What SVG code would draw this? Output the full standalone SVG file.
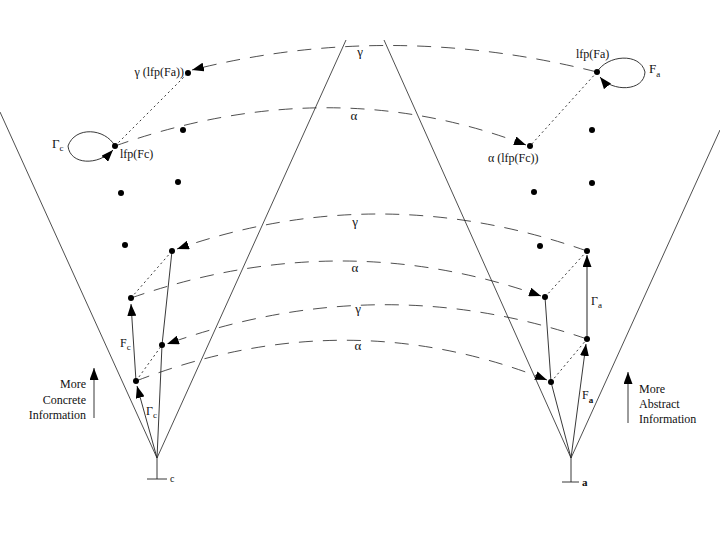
<svg xmlns="http://www.w3.org/2000/svg" width="720" height="540" viewBox="0 0 720 540" font-family="'Liberation Serif', 'Times New Roman', serif">
<style>
text{font-family:"Liberation Serif","Times New Roman",serif;fill:#111}
.t{font-size:12px}
.g{font-size:13px;text-anchor:middle}
.sub{font-size:9px}
.cone{stroke:#222;stroke-width:0.8;fill:none}
.sol{stroke:#222;stroke-width:0.9;fill:none}
.gray{stroke:#777;stroke-width:1.6;fill:none}
.dash{stroke:#222;stroke-width:0.8;fill:none;stroke-dasharray:14 10}
.dot{stroke:#222;stroke-width:0.9;fill:none;stroke-dasharray:2 3}
.n{fill:#000}
</style>
<defs>
<marker id="ah" markerUnits="userSpaceOnUse" markerWidth="12" markerHeight="9" refX="12" refY="4.5" orient="auto">
<path d="M0,0 L12,4.5 L0,9 z" fill="#000"/>
</marker>
</defs>
<g id="cones">
<line class="cone" x1="157" y1="458" x2="0" y2="112"/>
<line class="cone" x1="157" y1="458" x2="346" y2="40"/>
<line class="cone" x1="571" y1="458" x2="384" y2="40"/>
<line class="cone" x1="571" y1="458" x2="720" y2="130"/>
</g>
<g id="connectors">
<path class="dash" d="M597,72 Q390,20 192,70" marker-end="url(#ah)"/>
<path class="dash" d="M115,146 Q330,70 526,145" marker-end="url(#ah)"/>
<path class="dash" d="M587,251 Q380,178 177,249" marker-end="url(#ah)"/>
<path class="dash" d="M131,298 Q340,225 541,296" marker-end="url(#ah)"/>
<path class="dash" d="M587,339 Q380,268 167,344" marker-end="url(#ah)"/>
<path class="dash" d="M136,381 Q345,300 547,380" marker-end="url(#ah)"/>
<line class="dot" x1="115" y1="146" x2="188" y2="73"/>
<line class="dot" x1="597" y1="72" x2="530" y2="146"/>
<line class="dot" x1="131" y1="298" x2="172" y2="251"/>
<line class="dot" x1="136" y1="381" x2="162" y2="345"/>
<line class="dot" x1="545" y1="297" x2="587" y2="251"/>
<line class="dot" x1="551" y1="382" x2="587" y2="339"/>
<path class="sol" d="M115,146 C105,128 75,126 68,146 C70,165 98,166 113,150" marker-end="url(#ah)"/>
<path class="sol" d="M597,72 C607,55 640,52 645,72 C644,92 612,92 600,77" marker-end="url(#ah)"/>
<line class="sol" x1="157" y1="458" x2="137" y2="386" marker-end="url(#ah)"/>
<line class="sol" x1="136" y1="381" x2="131" y2="304" marker-end="url(#ah)"/>
<line class="sol" x1="157" y1="458" x2="162" y2="345"/>
<line class="sol" x1="162" y1="345" x2="172" y2="251"/>
<line class="sol" x1="571" y1="458" x2="586" y2="344" marker-end="url(#ah)"/>
<line class="gray" x1="587" y1="339" x2="587" y2="255" marker-end="url(#ah)"/>
<line class="sol" x1="571" y1="458" x2="551" y2="382"/>
<line class="sol" x1="551" y1="382" x2="545" y2="297"/>
<line class="sol" x1="94" y1="418" x2="94" y2="368" marker-end="url(#ah)"/>
<line class="sol" x1="628" y1="423" x2="628" y2="372" marker-end="url(#ah)"/>
</g>
<g id="bottom-c">
<path class="sol" d="M157,458 V479 M147,479 H167"/>
<text x="170" y="482" style="font-size:10px">c</text>
</g>
<g id="bottom-a">
<path class="sol" d="M571,458 V482 M562,482 H579"/>
<text x="582" y="486" style="font-size:11px;font-weight:bold">a</text>
</g>
<g id="node-gamma-lfpFa">
<circle class="n" cx="188" cy="73" r="3"/>
<text class="t" x="184" y="76" text-anchor="end">γ (lfp(Fa))</text>
</g>
<g id="node-lfpFc">
<circle class="n" cx="115" cy="146" r="3"/>
<text class="t" x="120" y="158">lfp(Fc)</text>
<text x="52" y="148" style="font-size:13px">Γ<tspan class="sub" dy="3">c</tspan></text>
</g>
<g id="node-lfpFa">
<circle class="n" cx="597" cy="72" r="3"/>
<text class="t" x="576" y="58">lfp(Fa)</text>
<text x="649" y="73" style="font-size:13px">F<tspan class="sub" dy="4">a</tspan></text>
</g>
<g id="node-alpha-lfpFc">
<circle class="n" cx="530" cy="146" r="3"/>
<text class="t" x="488" y="162">α (lfp(Fc))</text>
</g>
<g id="left-dots">
<circle class="n" cx="183" cy="130" r="3"/>
<circle class="n" cx="178" cy="182" r="3"/>
<circle class="n" cx="121" cy="193" r="3"/>
<circle class="n" cx="125" cy="245" r="3"/>
</g>
<g id="right-dots">
<circle class="n" cx="592" cy="130" r="3"/>
<circle class="n" cx="592" cy="183" r="3"/>
<circle class="n" cx="534" cy="192" r="3"/>
<circle class="n" cx="540" cy="246" r="3"/>
</g>
<g id="node-A1"><circle class="n" cx="136" cy="381" r="3"/></g>
<g id="node-A2"><circle class="n" cx="131" cy="298" r="3"/></g>
<g id="node-B1"><circle class="n" cx="162" cy="345" r="3"/></g>
<g id="node-B2"><circle class="n" cx="172" cy="251" r="3"/></g>
<g id="node-R0"><circle class="n" cx="551" cy="382" r="3"/></g>
<g id="node-R1"><circle class="n" cx="587" cy="339" r="3"/></g>
<g id="node-R2"><circle class="n" cx="587" cy="251" r="3"/></g>
<g id="node-R3"><circle class="n" cx="545" cy="297" r="3"/></g>
<g id="chain-labels">
<text x="146" y="415" style="font-size:12px">Γ<tspan class="sub" dy="3">c</tspan></text>
<text x="120" y="347" style="font-size:12px">F<tspan class="sub" dy="3">c</tspan></text>
<text x="591" y="305" style="font-size:12px">Γ<tspan class="sub" dy="3">a</tspan></text>
<text x="582" y="399" style="font-size:12px">F<tspan class="sub" dy="4" style="font-weight:bold">a</tspan></text>
</g>
<g id="map-labels">
<text class="g" x="360" y="56">γ</text>
<text class="g" x="354" y="120">α</text>
<text class="g" x="355" y="226">γ</text>
<text class="g" x="355" y="272">α</text>
<text class="g" x="358" y="313">γ</text>
<text class="g" x="358" y="350">α</text>
</g>
<g id="legend-concrete">
<text class="t" x="86" y="388" text-anchor="end">More</text>
<text class="t" x="86" y="404" text-anchor="end">Concrete</text>
<text class="t" x="86" y="419" text-anchor="end">Information</text>
</g>
<g id="legend-abstract">
<text class="t" x="639" y="393">More</text>
<text class="t" x="639" y="408">Abstract</text>
<text class="t" x="639" y="423">Information</text>
</g>
</svg>
